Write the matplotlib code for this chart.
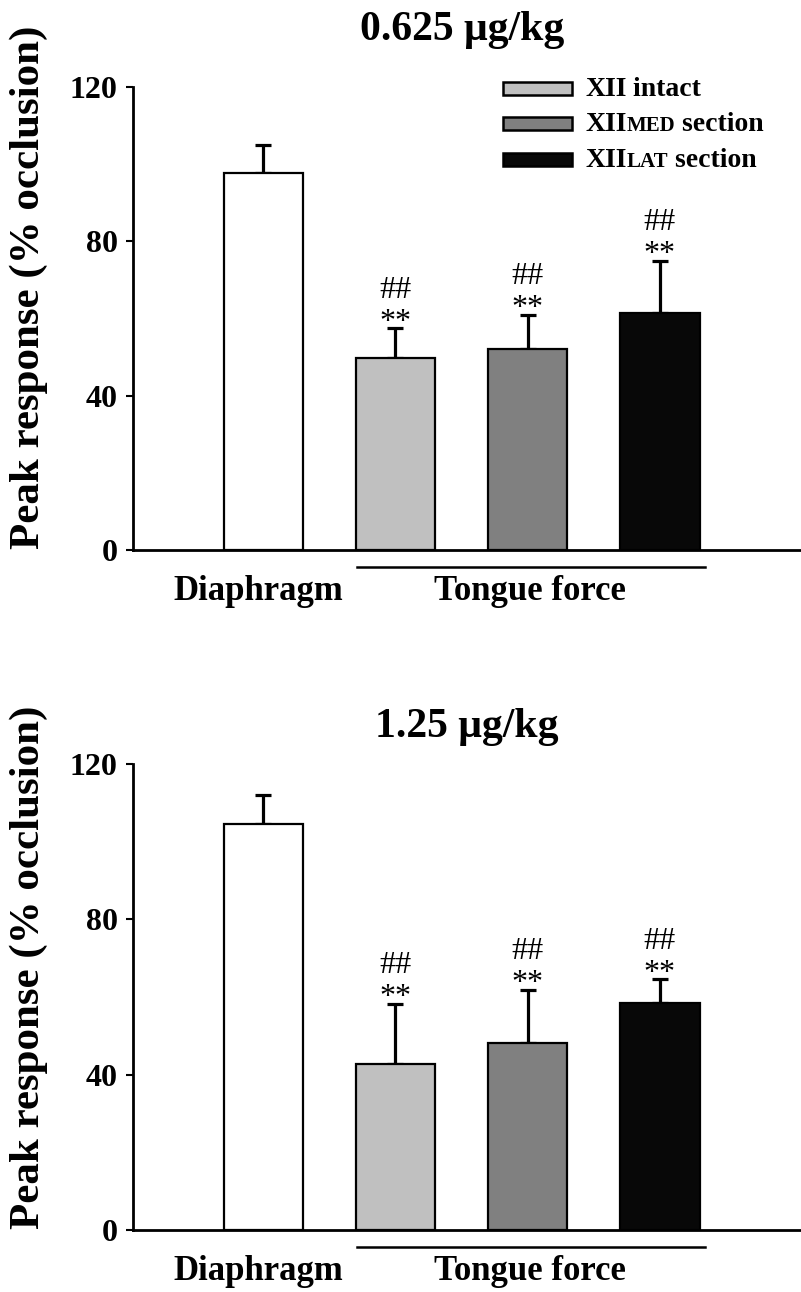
import matplotlib
matplotlib.use("Agg")
import matplotlib.pyplot as plt
from matplotlib.patches import Rectangle
from matplotlib.offsetbox import TextArea, HPacker, AnnotationBbox
from matplotlib.transforms import blended_transform_factory

plt.rcParams['font.family'] = ['Liberation Serif', 'DejaVu Serif']

titles = ["0.625 \u03bcg/kg", "1.25 \u03bcg/kg"]
groups = ["Diaphragm", "XII intact", "XIIMED section", "XIILAT section"]
legend_parts = [("XII", "", " intact"), ("XII", "MED", " section"), ("XII", "LAT", " section")]
means = [[97.7, 49.8, 52.1, 61.4], [104.6, 42.7, 48.2, 58.5]]
errors = [[7.3, 7.7, 8.8, 13.5], [7.4, 15.5, 13.6, 6.1]]
colors = ["#ffffff", "#c0c0c0", "#808080", "#080808"]
yticks = [0, 40, 80, 120]
annot_groups = [1, 2, 3]
xlabels = ["Diaphragm", "Tongue force"]

W, H = 801, 1292
fig = plt.figure(figsize=(W / 100, H / 100), dpi=100)

# axes pixel boxes: left, right, top(y=120), bottom(y=0)
boxes = [(133, 800, 87, 550), (133, 800, 764, 1230)]
title_pos = [(462, 40), (467, 737)]
ylabel_pos = [(29, 287), (29, 967)]

for k in range(2):
    l, r, t, b = boxes[k]
    ax = fig.add_axes([l / W, 1 - b / H, (r - l) / W, (b - t) / H])
    x = list(range(len(groups)))
    ax.bar(x, means[k], width=0.6, color=colors, edgecolor='black', linewidth=1.6, zorder=2)
    ax.errorbar(x, means[k], yerr=[[0] * 4, errors[k]], fmt='none', ecolor='black',
                elinewidth=2.3, capsize=6, capthick=2.3, zorder=1)
    ax.set_ylim(0, 120)
    ax.set_xlim(-0.985, 4.06)
    ax.set_yticks(yticks)
    ax.set_yticklabels([str(v) for v in yticks], fontsize=23, fontweight='bold')
    ax.set_xticks([])
    ax.tick_params(axis='y', direction='out', length=5, width=1.5, pad=6)
    for s in ['top', 'right']:
        ax.spines[s].set_visible(False)
    for s in ['left', 'bottom']:
        ax.spines[s].set_linewidth(2)

    fig.text(ylabel_pos[k][0] / W, 1 - ylabel_pos[k][1] / H, "Peak response (% occlusion)",
             rotation=90, ha='center', va='center', fontsize=31, fontweight='bold')
    fig.text(title_pos[k][0] / W, 1 - title_pos[k][1] / H, titles[k],
             ha='center', va='baseline', fontsize=30, fontweight='bold')

    for i in annot_groups:
        top = means[k][i] + errors[k][i]
        ax.annotate("**", (i, top), xytext=(0, -1), textcoords='offset points',
                    ha='center', va='baseline', fontsize=23)
        ax.annotate("##", (i, top), xytext=(0, 22), textcoords='offset points',
                    ha='center', va='baseline', fontsize=23)

    tr = blended_transform_factory(ax.transData, ax.transAxes)
    # underline placed 17 px below axis
    ax.plot([0.71, 3.34], [-17 / (b - t)] * 2, transform=tr, color='black', lw=1.8,
            clip_on=False)
    ax.annotate(xlabels[0], (-0.04, 0), xycoords=tr, xytext=(0, -36),
                textcoords='offset points', ha='center', va='baseline',
                fontsize=25, fontweight='bold', annotation_clip=False)
    ax.annotate(xlabels[1], (2.02, 0), xycoords=tr, xytext=(0, -36),
                textcoords='offset points', ha='center', va='baseline',
                fontsize=25, fontweight='bold', annotation_clip=False)

    if k == 0:
        def fx(px):
            return (px - l) / (r - l)

        def fy(py):
            return (b - py) / (b - t)

        row_centers = [88.5, 123.5, 159.5]
        big = dict(fontsize=20, fontweight='bold', family='Liberation Serif')
        small = dict(fontsize=15, fontweight='bold', family='Liberation Serif')
        for j in range(3):
            yc = row_centers[j]
            ax.add_patch(Rectangle((fx(503), fy(yc + 6.5)), fx(572) - fx(503),
                                   fy(yc - 6.5) - fy(yc + 6.5), transform=ax.transAxes,
                                   facecolor=colors[j + 1], edgecolor='black',
                                   linewidth=1.8, clip_on=False))
            parts = [TextArea(legend_parts[j][0], textprops=big)]
            if legend_parts[j][1]:
                parts.append(TextArea(legend_parts[j][1], textprops=small))
            parts.append(TextArea(legend_parts[j][2], textprops=big))
            row = HPacker(children=parts, align='baseline', pad=0, sep=0)
            ab = AnnotationBbox(row, (fx(585), fy(yc + 1)), xycoords='axes fraction',
                                box_alignment=(0, 0.5), frameon=False, pad=0,
                                annotation_clip=False)
            ax.add_artist(ab)

fig.savefig("out.png", dpi=100)
